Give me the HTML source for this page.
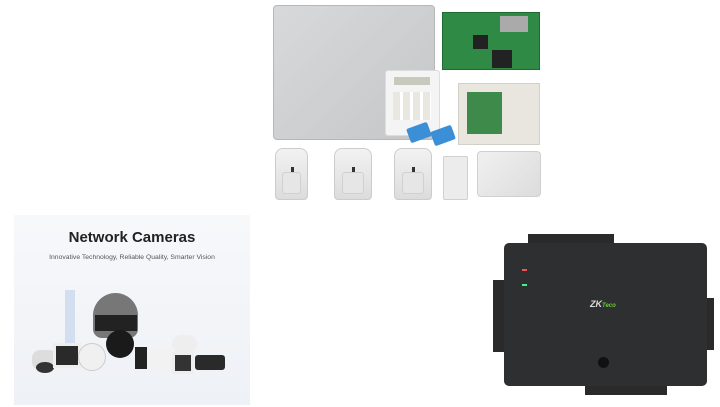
<!DOCTYPE html>
<html><head><meta charset="utf-8"><style>
body{margin:0;width:720px;height:407px;background:#fff;position:relative;overflow:hidden;font-family:"Liberation Sans",sans-serif}
div{position:absolute;box-sizing:border-box}
.pir{background:linear-gradient(#f2f2f2,#dcdcdc);border-radius:8px 8px 4px 4px;border:1px solid #ccc}
.pir i{position:absolute;left:20%;right:20%;bottom:10%;height:40%;background:#e6e6e6;border-radius:3px;border:1px solid #d0d0d0}
.pir b{position:absolute;left:48%;top:35%;width:3px;height:5px;background:#333}
.term{background:#2a2a2a}
</style></head><body>
<!-- top kit -->
<div style="left:273px;top:5px;width:162px;height:135px;background:linear-gradient(135deg,#d8d9da,#c4c6c8);border:1px solid #b5b7b9;border-radius:4px"></div>
<div style="left:385px;top:70px;width:55px;height:66px;background:#f4f4f4;border:1px solid #ddd;border-radius:3px"></div>
<div style="left:394px;top:77px;width:36px;height:8px;background:#c9cabe"></div>
<div style="left:393px;top:92px;width:38px;height:28px;background:repeating-linear-gradient(90deg,#e8e8e0 0 7px,#fff 7px 10px)"></div>
<div style="left:408px;top:125px;width:22px;height:15px;background:#3a8fd6;transform:rotate(-20deg);border-radius:2px"></div>
<div style="left:432px;top:128px;width:22px;height:15px;background:#3a8fd6;transform:rotate(-20deg);border-radius:2px"></div>
<div style="left:442px;top:12px;width:98px;height:58px;background:#2f8a45;border:1px solid #1e6b32"></div>
<div style="left:473px;top:35px;width:15px;height:14px;background:#222"></div>
<div style="left:492px;top:50px;width:20px;height:18px;background:#222"></div>
<div style="left:500px;top:16px;width:28px;height:16px;background:#aaa"></div>
<div style="left:458px;top:83px;width:82px;height:62px;background:#e8e6de;border:1px solid #d2d0c8"></div>
<div style="left:467px;top:92px;width:35px;height:42px;background:#3d8a4a"></div>
<div class="pir" style="left:275px;top:148px;width:33px;height:52px"><i></i><b></b></div>
<div class="pir" style="left:334px;top:148px;width:38px;height:52px"><i></i><b></b></div>
<div class="pir" style="left:394px;top:148px;width:38px;height:52px"><i></i><b></b></div>
<div style="left:443px;top:156px;width:25px;height:44px;background:#ececec;border:1px solid #d0d0d0;border-radius:2px"></div>
<div style="left:477px;top:151px;width:64px;height:46px;background:linear-gradient(135deg,#f0f0f0,#dcdcdc);border:1px solid #d0d0d0;border-radius:4px"></div>
<!-- cameras -->
<div style="left:14px;top:215px;width:236px;height:190px;background:linear-gradient(#f7f8fa,#eef1f6)"></div>
<div style="left:14px;top:229px;width:236px;text-align:center;font-size:15px;font-weight:bold;color:#222">Network Cameras</div>
<div style="left:14px;top:254px;width:236px;text-align:center;font-size:6.8px;color:#555">Innovative Technology, Reliable Quality, Smarter Vision</div>
<div style="left:65px;top:290px;width:10px;height:60px;background:#c5d5ee;opacity:.7"></div>
<div style="left:93px;top:293px;width:45px;height:45px;background:#777;border-radius:50% 50% 20% 20%"></div>
<div style="left:95px;top:315px;width:42px;height:16px;background:#222"></div>
<div style="left:106px;top:330px;width:28px;height:28px;background:#1a1a1a;border-radius:50%"></div>
<div style="left:32px;top:350px;width:25px;height:20px;background:#ddd;border-radius:8px"></div>
<div style="left:36px;top:362px;width:18px;height:11px;background:#333;border-radius:50%"></div>
<div style="left:53px;top:343px;width:28px;height:25px;background:#2a2a2a;border:3px solid #eee"></div>
<div style="left:78px;top:343px;width:28px;height:28px;background:#f0f0f0;border-radius:50%;border:1px solid #ccc"></div>
<div style="left:135px;top:347px;width:36px;height:22px;background:#f2f2f2;border-left:12px solid #222"></div>
<div style="left:172px;top:335px;width:25px;height:18px;background:#eee;border-radius:10px"></div>
<div style="left:172px;top:352px;width:22px;height:22px;background:#333;border:3px solid #eee"></div>
<div style="left:195px;top:355px;width:30px;height:15px;background:#2a2a2a;border-radius:3px"></div>
<!-- controller -->
<div class="term" style="left:528px;top:234px;width:86px;height:10px"></div>
<div class="term" style="left:493px;top:280px;width:12px;height:72px"></div>
<div class="term" style="left:706px;top:298px;width:8px;height:52px"></div>
<div class="term" style="left:585px;top:385px;width:82px;height:10px"></div>
<div style="left:504px;top:243px;width:203px;height:143px;background:#2e2f30;border-radius:5px"></div>
<div style="left:522px;top:269px;width:5px;height:2px;background:#e55"></div>
<div style="left:522px;top:284px;width:5px;height:2px;background:#4e8"></div>
<div style="left:590px;top:299px;font-size:9px;font-weight:bold;font-style:italic;color:#ddd">ZK<span style="color:#6c3;font-size:6px">Teco</span></div>
<div style="left:598px;top:357px;width:11px;height:11px;background:#111;border-radius:50%"></div>
</body></html>
